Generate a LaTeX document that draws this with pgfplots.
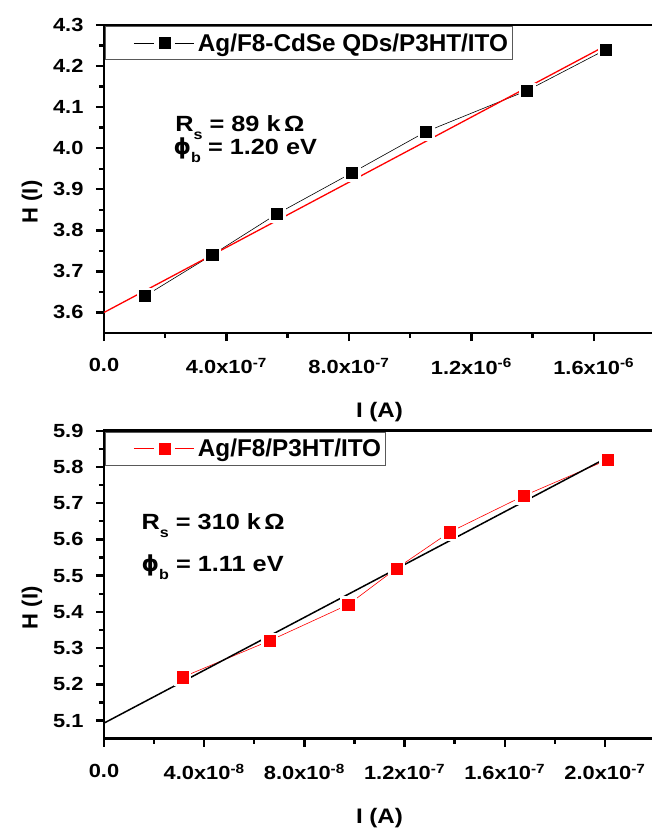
\documentclass[border=0pt]{standalone}
\usepackage{fontspec}
\setmainfont{Liberation Sans}[FakeStretch=1.15]
\newfontfamily\plainfont{Liberation Sans}
\newfontfamily\dvs{DejaVu Sans}
\usepackage{pgfplots}
\pgfplotsset{compat=1.18}
\newcommand\sub[1]{\raisebox{-8pt}{\fontsize{14}{14}\selectfont #1}}
\newcommand\phib{{\dvs\bfseries ϕ}\sub{b}}

\pgfplotstableread{
x y
1.34e-7 3.64
3.53e-7 3.74
5.65e-7 3.84
8.10e-7 3.94
1.051e-6 4.04
1.381e-6 4.14
1.639e-6 4.24
}\topdata

\pgfplotstableread{
x y
3.14e-8 5.22
6.6e-8 5.32
9.75e-8 5.42
1.168e-7 5.52
1.38e-7 5.62
1.675e-7 5.72
2.011e-7 5.82
}\botdata

\begin{document}
\begin{tikzpicture}
\pgfplotsset{
  myaxis/.style={
    scale only axis, width=551pt, height=308pt,
    axis line style={line width=2.6pt},
    every tick/.style={line width=2.4pt, black},
    tick align=outside,
    major tick length=8pt, minor tick length=5pt,
    tick pos=left,
    minor x tick num=1, minor y tick num=1,
    tick label style={font=\bfseries\fontsize{19}{21}\selectfont},
    xticklabel style={yshift=-14pt},
    scaled x ticks=false, scaled y ticks=false,
    yticklabel style={xshift=-9pt, /pgf/number format/.cd, fixed, fixed zerofill, precision=1, assume math mode=true},
    xlabel style={at={(rel axis cs:0.5,0)}, anchor=center, yshift=-79pt, font=\bfseries\fontsize{21}{24}\selectfont},
    ylabel style={at={(rel axis cs:0,0.5)}, anchor=center, xshift=-23pt, yshift=72pt, font=\plainfont\bfseries\fontsize{22}{24}\selectfont},
    legend style={at={(0,1)}, anchor=north west, xshift=1.5pt, yshift=-1pt,
      draw=gray!70!black, line width=0.9pt, inner xsep=2pt, inner ysep=5pt,
      font=\plainfont\bfseries\fontsize{24.3}{26}\selectfont},
    legend cell align=left,
    legend image code/.code={
      \path[draw=none,fill=none] (0pt,-3pt) rectangle (88pt,3pt);
      \draw[##1,mark=none] (26pt,0pt) -- (46pt,0pt);
      \draw[##1,mark=none] (67pt,0pt) -- (86pt,0pt);
      \draw[##1] plot coordinates {(56.5pt,0pt)};
    },
  }
}
\begin{axis}[myaxis, name=top, at={(0,0)}, anchor=north west,
  xmin=0, xmax=1.8e-6, ymin=3.55, ymax=4.3,
  xtick={0,4e-7,8e-7,1.2e-6,1.6e-6},
  xticklabels={0.0,{4.0x10\textsuperscript{-7}},{8.0x10\textsuperscript{-7}},{1.2x10\textsuperscript{-6}},{1.6x10\textsuperscript{-6}}},
  ytick={3.6,3.7,3.8,3.9,4.0,4.1,4.2,4.3},
  xlabel={I (A)}, ylabel={H (I)}]
\addlegendimage{black, line width=0.6pt, mark=square*, mark size=5.6pt, mark options={solid}}
\addlegendentry{Ag/F8-CdSe QDs/P3HT/ITO}
\addplot[black, line width=0.6pt, mark=none, forget plot] table {\topdata};
\addplot[only marks, mark=square*, mark size=8pt, mark options={fill=white, draw=white}, forget plot] table {\topdata};
\addplot[only marks, mark=square*, mark size=5.6pt, mark options={fill=black, draw=black, line width=0.3pt}, forget plot] table {\topdata};
\addplot[red, line width=1.3pt, forget plot] coordinates {(0,3.6) (1.64e-6,4.25)};
\node[anchor=base west, font=\bfseries\fontsize{22}{24}\selectfont] at (rel axis cs:0.123,0.654) {R\sub{s} = 89 k\(\,\)Ω};
\node[anchor=base west, font=\bfseries\fontsize{22}{24}\selectfont] at (rel axis cs:0.12,0.578) {\phib{} = 1.20 eV};
\end{axis}

\begin{axis}[myaxis, name=bot, at={(0,-405.7pt)}, anchor=north west,
  xmin=0, xmax=2.2e-7, ymin=5.05, ymax=5.9,
  xtick={0,4e-8,8e-8,1.2e-7,1.6e-7,2.0e-7},
  xticklabels={0.0,{4.0x10\textsuperscript{-8}},{8.0x10\textsuperscript{-8}},{1.2x10\textsuperscript{-7}},{1.6x10\textsuperscript{-7}},{2.0x10\textsuperscript{-7}}},
  ytick={5.1,5.2,5.3,5.4,5.5,5.6,5.7,5.8,5.9},
  xlabel={I (A)}, ylabel={H (I)}]
\addlegendimage{red, line width=0.6pt, mark=square*, mark size=5.6pt, mark options={solid}}
\addlegendentry{Ag/F8/P3HT/ITO}
\addplot[red, line width=0.6pt, mark=none, forget plot] table {\botdata};
\addplot[only marks, mark=square*, mark size=8pt, mark options={fill=white, draw=white}, forget plot] table {\botdata};
\addplot[only marks, mark=square*, mark size=5.6pt, mark options={fill=red, draw=red, line width=0.3pt}, forget plot] table {\botdata};
\addplot[black, line width=1.5pt, forget plot] coordinates {(0,5.093) (2.01e-7,5.826)};
\node[anchor=base west, font=\bfseries\fontsize{22}{24}\selectfont] at (rel axis cs:0.062,0.678) {R\sub{s} = 310 k\(\,\)Ω};
\node[anchor=base west, font=\bfseries\fontsize{22}{24}\selectfont] at (rel axis cs:0.062,0.542) {\phib{} = 1.11 eV};
\end{axis}

\pgfresetboundingbox
\path[use as bounding box] ([shift={(-104pt,25pt)}]top.north west) rectangle ([shift={(547pt,-805pt)}]top.north west);
\end{tikzpicture}
\end{document}
